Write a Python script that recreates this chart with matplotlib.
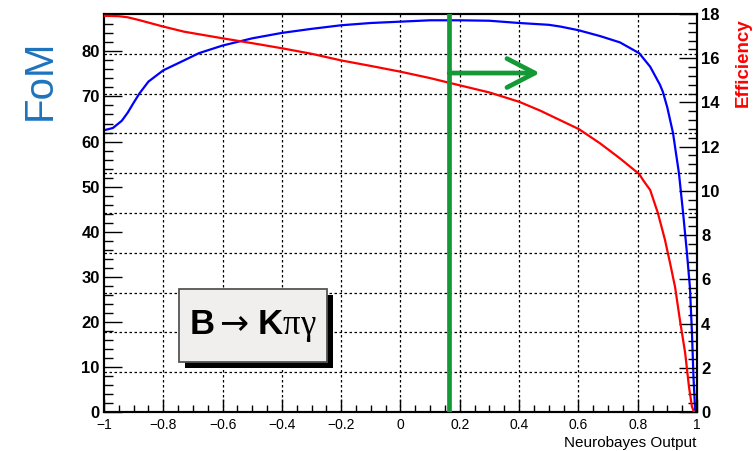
import numpy as np
import matplotlib
matplotlib.use('Agg')
import matplotlib.pyplot as plt
from matplotlib.patches import Rectangle
from matplotlib.ticker import MultipleLocator, FuncFormatter

plt.rcParams['font.family'] = ['Liberation Sans', 'DejaVu Sans']
plt.rcParams['mathtext.fontset'] = 'custom'
plt.rcParams['mathtext.rm'] = 'Liberation Serif'
plt.rcParams['mathtext.it'] = 'Liberation Serif:italic'
plt.rcParams['mathtext.bf'] = 'Liberation Sans:bold'
plt.rcParams['mathtext.sf'] = 'DejaVu Sans'

# Figure of merit vs. NeuroBayes output
nb_fom = [-1.0, -0.97, -0.94, -0.92, -0.9, -0.88, -0.85, -0.8, -0.73, -0.68, -0.6, -0.5,
          -0.4, -0.3, -0.2, -0.1, 0.0, 0.1, 0.2, 0.3, 0.4, 0.5, 0.54, 0.6, 0.673, 0.74,
          0.805, 0.842, 0.875, 0.885, 0.9, 0.919, 0.939, 0.953, 0.966, 0.976, 0.983,
          0.988, 0.994]
fom = [62.5, 63.0, 64.6, 66.4, 68.6, 70.7, 73.3, 75.8, 78.0, 79.6, 81.3, 82.9,
       84.1, 85.0, 85.8, 86.3, 86.6, 86.9, 86.9, 86.8, 86.3, 85.9, 85.5, 84.7, 83.4, 82.0,
       79.6, 76.6, 72.6, 71.0, 67.5, 61.9, 53.0, 44.2, 35.3, 27.7, 17.5,
       7.8, 0.0]

# Signal efficiency vs. NeuroBayes output
nb_eff = [-1.0, -0.95, -0.92, -0.88, -0.8, -0.73, -0.6, -0.5, -0.4, -0.3, -0.2, -0.1,
          0.0, 0.1, 0.17, 0.3, 0.4, 0.471, 0.538, 0.602, 0.673, 0.74, 0.805, 0.82, 0.842,
          0.868, 0.892, 0.909, 0.926, 0.943, 0.96, 0.973, 0.983, 0.99]
eff = [17.92, 17.9, 17.85, 17.72, 17.43, 17.2, 16.9, 16.68, 16.45, 16.2, 15.9, 15.65,
       15.39, 15.1, 14.87, 14.45, 14.03, 13.63, 13.2, 12.79, 12.15, 11.47, 10.76, 10.45, 10.04,
       9.0, 7.78, 6.74, 5.65, 4.1, 2.67, 1.13, 0.23, 0.0]

cut = 0.164
arrow_end = 0.47
arrow_y = 75.2
fom_max = 88.3
eff_max = 18

green = '#139a37'

fig = plt.figure(figsize=(7.55, 4.51), dpi=100)
ax = fig.add_axes([0.1377, 0.0865, 0.7855, 0.8825])
ax2 = ax.twinx()

ax.set_xlim(-1, 1)
ax.set_ylim(0, fom_max)
ax2.set_ylim(0, eff_max)

# dotted grid
for xv in np.linspace(-0.8, 0.8, 9):
    ax.axvline(xv, color='k', lw=0.9, ls=(0, (2, 2)), zorder=0)
for yv in np.linspace(0, fom_max, 11)[1:-1]:
    ax.axhline(yv, color='k', lw=0.9, ls=(0, (2, 2)), zorder=0)

ax.plot(nb_fom, fom, color='#0000ff', lw=1.6, zorder=3)
ax2.plot(nb_eff, eff, color='#ff0000', lw=1.6, zorder=3)

ax2.axvline(cut, color=green, lw=3.4, zorder=5)
ax2.annotate('', xy=(arrow_end, arrow_y * eff_max / fom_max),
             xytext=(cut, arrow_y * eff_max / fom_max),
             arrowprops=dict(arrowstyle='->,head_length=1.0,head_width=0.52',
                             color=green, lw=3.4, shrinkA=0, shrinkB=0,
                             mutation_scale=20), zorder=5)

# axes, ticks
ax.xaxis.set_major_locator(MultipleLocator(0.2))
ax.xaxis.set_minor_locator(MultipleLocator(0.05))
ax.xaxis.set_major_formatter(
    FuncFormatter(lambda v, p: f'{round(v, 6):g}'.replace('-', '\u2212')))
ax.yaxis.set_major_locator(MultipleLocator(10))
ax.yaxis.set_minor_locator(MultipleLocator(2))
ax2.yaxis.set_major_locator(MultipleLocator(2))
ax2.yaxis.set_minor_locator(MultipleLocator(0.4))

ax.tick_params(axis='x', which='major', direction='in', length=9.4, width=1, labelsize=10, pad=4.5, top=False)
ax.tick_params(axis='x', which='minor', direction='in', length=4.7, width=1, top=False)
ax.tick_params(axis='y', which='major', direction='in', length=13, width=1, labelsize=12, pad=3, right=False)
ax.tick_params(axis='y', which='minor', direction='in', length=6.5, width=1, right=False)
ax2.tick_params(axis='y', which='major', direction='in', length=13, width=1, labelsize=12, pad=3)
ax2.tick_params(axis='y', which='minor', direction='in', length=6.5, width=1)
for lab in ax.get_yticklabels() + ax2.get_yticklabels():
    lab.set_fontweight('bold')

for a in (ax, ax2):
    for s in a.spines.values():
        s.set_linewidth(1.5)

fig.text(0.053, 0.823, 'FoM', rotation=90, color='#1e73be', fontsize=29,
         ha='center', va='center')
fig.text(0.985, 0.862, 'Efficiency', rotation=90, color='#ff0000', fontsize=13.5,
         fontweight='bold', ha='center', va='center')
fig.text(0.923, 0.002, 'Neurobayes Output', fontsize=11, ha='right', va='bottom')

# decay label box with shadow
bx, by, bw, bh = 0.2371, 0.1973, 0.196, 0.1619
fig.patches.append(Rectangle((bx + 6 / 755, by - 6 / 451), bw, bh, transform=fig.transFigure,
                             facecolor='black', edgecolor='none', zorder=6))
fig.patches.append(Rectangle((bx, by), bw, bh, transform=fig.transFigure,
                             facecolor='#f0efee', edgecolor='#555555', lw=1.3, zorder=7))
fig.text(bx + bw / 2, by + bh / 2,
         r'$\mathbf{B}\mathsf{\rightarrow}\,\mathbf{K}\mathrm{\pi\gamma}$',
         fontsize=25, ha='center', va='center', zorder=8)

fig.savefig('out.png', dpi=100)
